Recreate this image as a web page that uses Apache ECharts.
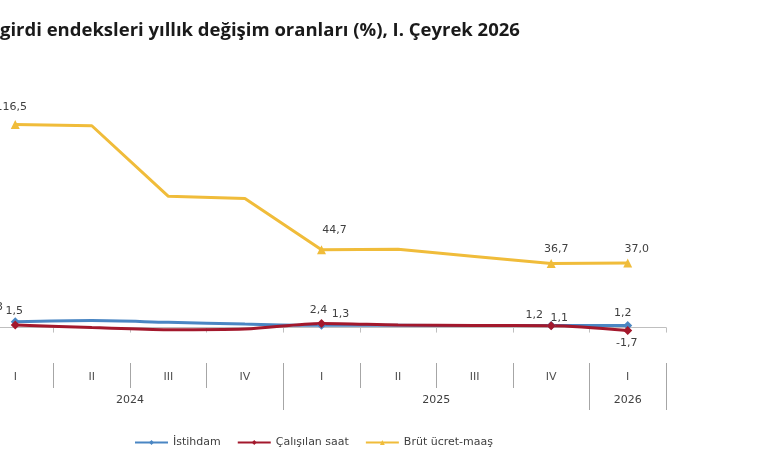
<!DOCTYPE html>
<html>
<head>
<meta charset="utf-8">
<script src="https://cdn.jsdelivr.net/npm/echarts@6.0.0/dist/echarts.min.js"></script>
<style>
  html, body { margin: 0; padding: 0; background: #fff; overflow: hidden; }
  /* grafik soldan kirpilmis: tuval sola kaydirildi */
  #main { width: 803px; height: 470px; margin-left: -23px; }
</style>
</head>
<body>
<div id="main"></div>
<script>
// ceyrekler ve yillar
const quarters = ['I', 'II', 'III', 'IV', 'I', 'II', 'III', 'IV', 'I'];
const years = ['2024', '2025', '2026'];
const quartersPerYear = [4, 4, 1];

// yillik degisim oranlari (%)
const istihdam = [3.3, 4.0, 3.0, 2.0, 1.3, 1.3, 1.2, 1.2, 1.2];
const calisilanSaat = [1.5, 0.0, -1.2, -0.8, 2.4, 1.5, 1.2, 1.1, -1.7];
const brutUcret = [116.5, 115.8, 75.3, 74.1, 44.7, 45.0, 40.8, 36.7, 37.0];

// etiketli noktalar (her yilin ilk ceyregi + son iki ceyrek)
const labeledIdx = [0, 4, 7, 8];

const font = "'DejaVu Sans', Verdana, sans-serif";
const fmt = v => v.toFixed(1).replace('.', ',');

// yil sinirlari ve ortalari
let acc = 0;
const yearBounds = [0];
const yearMids = [];
quartersPerYear.forEach(n => {
  yearMids.push(acc + n / 2);
  acc += n;
  yearBounds.push(acc);
});
const quarterMids = quarters.map((q, i) => i + 0.5);
const quarterBounds = quarters.map((q, i) => i).filter(i => i > 0 && yearBounds.indexOf(i) < 0);

function buildData(values, offsets) {
  return values.map((v, i) => {
    const k = labeledIdx.indexOf(i);
    if (k < 0) return { value: v, symbol: 'none' };
    return {
      value: v,
      label: { show: true, position: 'inside', offset: offsets[k] }
    };
  });
}

const chart = echarts.init(document.getElementById('main'));

const labelStyle = {
  color: '#404040',
  fontSize: 11,
  fontFamily: font,
  formatter: p => fmt(p.value)
};

const option = {
  animation: false,
  backgroundColor: '#fff',
  textStyle: { fontFamily: font },
  title: {
    text: 'girdi endeksleri yıllık değişim oranları (%), I. Çeyrek 2026',
    left: 23,
    top: 21,
    padding: 0,
    textStyle: { fontSize: 18.5, fontWeight: 'bold', color: '#1a1a1a', fontFamily: "'Open Sans', sans-serif" }
  },
  legend: {
    left: 152,
    top: 432,
    itemWidth: 33,
    itemHeight: 6,
    itemGap: 16,
    textStyle: { fontSize: 11, color: '#404040', fontFamily: font },
    data: ['İstihdam', 'Çalışılan saat', 'Brüt ücret-maaş']
  },
  grid: { left: 0, right: 114, top: 101, bottom: 125 },
  xAxis: [
    {
      type: 'category',
      data: quarters,
      boundaryGap: true,
      axisLine: { onZero: true, lineStyle: { color: '#bfbfbf', width: 1 } },
      axisTick: { show: true, length: 5, lineStyle: { color: '#bfbfbf' } },
      axisLabel: { show: false },
      splitLine: { show: false }
    },
    {
      type: 'value',
      min: 0,
      max: 9,
      position: 'bottom',
      offset: 18,
      axisLine: { show: false },
      axisTick: { show: true, length: 25, customValues: quarterBounds, lineStyle: { color: '#a6a6a6' } },
      axisLabel: {
        customValues: quarterMids,
        margin: 9,
        fontSize: 11,
        color: '#505050',
        fontFamily: font,
        formatter: v => quarters[Math.floor(v)]
      },
      splitLine: { show: false }
    },
    {
      type: 'value',
      min: 0,
      max: 9,
      position: 'bottom',
      offset: 18,
      axisLine: { show: false },
      axisTick: { show: true, length: 47, customValues: yearBounds, lineStyle: { color: '#a6a6a6' } },
      axisLabel: {
        customValues: yearMids,
        margin: 32,
        fontSize: 11,
        color: '#404040',
        fontFamily: font,
        formatter: v => years[yearMids.indexOf(v)]
      },
      splitLine: { show: false }
    }
  ],
  yAxis: {
    type: 'value',
    min: -10,
    max: 130,
    show: false,
    splitLine: { show: false }
  },
  series: [
    {
      name: 'İstihdam',
      type: 'line',
      smooth: 0.3,
      symbol: 'diamond',
      symbolSize: 9,
      showAllSymbol: true,
      color: '#4a86c3',
      lineStyle: { width: 3 },
      label: labelStyle,
      data: buildData(istihdam, [[-21, -15], [19, -11], [-17, -10], [-5, -12]])
    },
    {
      name: 'Çalışılan saat',
      type: 'line',
      smooth: 0.3,
      symbol: 'diamond',
      symbolSize: 9,
      showAllSymbol: true,
      color: '#a3182c',
      lineStyle: { width: 3 },
      label: labelStyle,
      data: buildData(calisilanSaat, [[-1, -14], [-3, -13], [8, -8], [-1, 13]])
    },
    {
      name: 'Brüt ücret-maaş',
      type: 'line',
      symbol: 'triangle',
      symbolSize: 9,
      showAllSymbol: true,
      color: '#f0bc3a',
      lineStyle: { width: 3 },
      label: labelStyle,
      data: buildData(brutUcret, [[-4, -17], [13, -20], [5, -14], [9, -14]])
    }
  ]
};

chart.setOption(option);
</script>
</body>
</html>
